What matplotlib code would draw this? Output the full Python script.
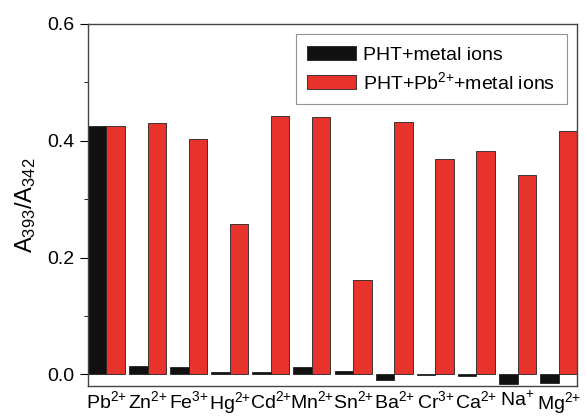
import numpy as np
import matplotlib.pyplot as plt

plt.rcParams['font.family'] = ['Liberation Sans', 'DejaVu Sans']
plt.rcParams['mathtext.fontset'] = 'custom'
plt.rcParams['mathtext.rm'] = 'Liberation Sans'
plt.rcParams['mathtext.it'] = 'Liberation Sans'

ions = ['Pb$^{2{+}}$', 'Zn$^{2{+}}$', 'Fe$^{3{+}}$', 'Hg$^{2{+}}$', 'Cd$^{2{+}}$', 'Mn$^{2{+}}$',
        'Sn$^{2{+}}$', 'Ba$^{2{+}}$', 'Cr$^{3{+}}$', 'Ca$^{2{+}}$', 'Na$^{{+}}$', 'Mg$^{2{+}}$']
pht_metal = [0.425, 0.014, 0.012, 0.005, 0.004, 0.013, 0.006, -0.010, -0.001, -0.002, -0.016, -0.015]
pht_pb_metal = [0.425, 0.430, 0.403, 0.257, 0.443, 0.441, 0.162, 0.432, 0.368, 0.383, 0.341, 0.416]

fig, ax = plt.subplots(figsize=(5.86, 4.17), dpi=100)
fig.subplots_adjust(left=0.15, right=0.985, top=0.943, bottom=0.074)

x = np.arange(len(ions))
w = 0.45
ax.bar(x - w/2, pht_metal, w, color='#111111', edgecolor='#222222', linewidth=0.6,
       label='PHT+metal ions')
ax.bar(x + w/2, pht_pb_metal, w, color='#e8322c', edgecolor='#222222', linewidth=0.6,
       label='PHT+Pb$^{2{+}}$+metal ions')

ax.set_xlim(-w, len(ions) - 1 + w)
ax.set_ylim(-0.02, 0.6)
ax.set_yticks([0.0, 0.2, 0.4, 0.6])
ax.set_yticks([0.1, 0.3, 0.5], minor=True)
ax.set_yticklabels(['0.0', '0.2', '0.4', '0.6'])
ax.set_xticks(x)
ax.set_xticklabels(ions)
ax.tick_params(axis='x', length=0, labelsize=14, pad=3)
ax.tick_params(axis='y', which='major', length=6, labelsize=14, direction='out', pad=4)
ax.tick_params(axis='y', which='minor', length=3, direction='out')
ax.set_ylabel('A$_{393}$/A$_{342}$', fontsize=17, labelpad=6)
for s in ax.spines.values():
    s.set_color('#444444')
    s.set_linewidth(1.0)

leg = ax.legend(loc='upper right', fontsize=14, frameon=True, fancybox=False,
                edgecolor='#777777', handlelength=2.5, handleheight=0.75,
                handletextpad=0.35, borderaxespad=0.55, labelspacing=0.35,
                borderpad=0.6)
leg.get_frame().set_linewidth(0.8)

fig.savefig('out.png', dpi=100)
